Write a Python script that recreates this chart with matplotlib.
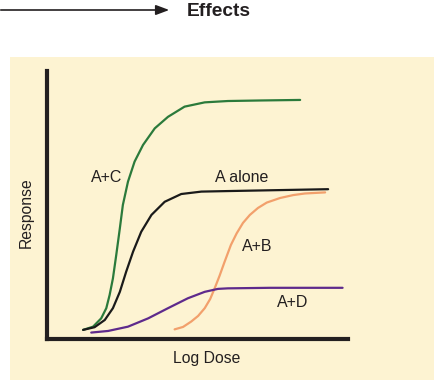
import matplotlib
matplotlib.use("Agg")
import matplotlib.pyplot as plt
from matplotlib.patches import Rectangle, FancyArrowPatch

# ---- data (x = log dose, y = response, 0-10 scale) ----
ac_x = [1.20, 1.53, 1.80, 1.97, 2.08, 2.19, 2.30, 2.42, 2.52, 2.69, 2.91, 3.19, 3.58, 4.02, 4.57, 5.24, 6.01, 7.08, 8.41]
ac_y = [0.34, 0.46, 0.77, 1.15, 1.64, 2.26, 3.13, 4.13, 5.00, 5.87, 6.62, 7.24, 7.86, 8.29, 8.67, 8.83, 8.88, 8.90, 8.92]

alone_x = [1.20, 1.58, 1.92, 2.19, 2.42, 2.63, 2.86, 3.13, 3.47, 3.91, 4.46, 5.13, 6.01, 9.34]
alone_y = [0.34, 0.44, 0.71, 1.15, 1.76, 2.51, 3.26, 4.00, 4.63, 5.12, 5.41, 5.50, 5.52, 5.59]

ab_x = [4.24, 4.52, 4.79, 5.02, 5.24, 5.42, 5.57, 5.73, 5.90, 6.11, 6.30, 6.51, 6.74, 7.01, 7.30, 7.74, 8.18, 8.57, 9.24]
ab_y = [0.36, 0.45, 0.65, 0.86, 1.15, 1.49, 1.89, 2.35, 2.88, 3.51, 3.94, 4.33, 4.63, 4.89, 5.09, 5.26, 5.37, 5.43, 5.47]

ad_x = [1.47, 2.03, 2.69, 3.36, 4.02, 4.68, 5.24, 5.68, 6.01, 7.41, 9.82]
ad_y = [0.24, 0.30, 0.46, 0.77, 1.15, 1.52, 1.76, 1.87, 1.89, 1.91, 1.91]

curve_labels = ["A+C", "A alone", "A+B", "A+D"]
label_x = [1.99, 6.48, 6.98, 8.17]
label_y = [6.01, 6.01, 3.47, 1.38]

x_label = "Log Dose"
y_label = "Response"
header = "Effects"

# ---- figure ----
W, H = 435, 391
fig = plt.figure(figsize=(W / 100, H / 100), dpi=100)
fig.patch.set_facecolor("white")

bg = "#fdf3d2"
fig.add_artist(Rectangle((10 / W, 1 - 380 / H), 1 - 10 / W, (380 - 57) / H,
                         transform=fig.transFigure, facecolor=bg,
                         edgecolor="none", zorder=-10))

ax = fig.add_axes([47 / W, 1 - 339 / H, (348 - 47) / W, (339 - 71) / H])
ax.set_zorder(5)
ax.patch.set_visible(False)
ax.set_xlim(0, 10)
ax.set_ylim(0, 10)
for s in ["top", "right"]:
    ax.spines[s].set_visible(False)
for s in ["left", "bottom"]:
    ax.spines[s].set_linewidth(3.0)
    ax.spines[s].set_color("#231f20")
    ax.spines[s].set_capstyle("projecting")
ax.set_xticks([])
ax.set_yticks([])

font = "Liberation Sans"
tc = "#231f20"
lw = 1.6
style = dict(lw=lw, solid_capstyle="round", solid_joinstyle="round")
ax.plot(ac_x, ac_y, color="#2b7a3b", **style)
ax.plot(alone_x, alone_y, color="#1a1a1a", **style)
ax.plot(ab_x, ab_y, color="#f2a06c", **style)
ax.plot(ad_x, ad_y, color="#5e2a8c", **style)

for t, x, y in zip(curve_labels, label_x, label_y):
    ax.text(x, y, t, ha="center", va="center", fontsize=11.5, family=font, color=tc)

fig.text(207 / W, 1 - 359 / H, x_label, ha="center", va="center",
         fontsize=11.3, family=font, color=tc)
fig.text(26 / W, 1 - 213 / H, y_label, ha="center", va="center", rotation=90,
         fontsize=11.3, family=font, color=tc)

# header arrow
fig.add_artist(FancyArrowPatch(
    (-2 / W, 1 - 10 / H), (172 / W, 1 - 10 / H), transform=fig.transFigure,
    arrowstyle="-|>,head_length=8,head_width=3", mutation_scale=1,
    color="#231f20", lw=1.2))
fig.text(187 / W, 1 - 11 / H, header, ha="left", va="center",
         fontsize=13.8, fontweight="bold", family=font, color=tc)

fig.savefig("out.png", dpi=100)
